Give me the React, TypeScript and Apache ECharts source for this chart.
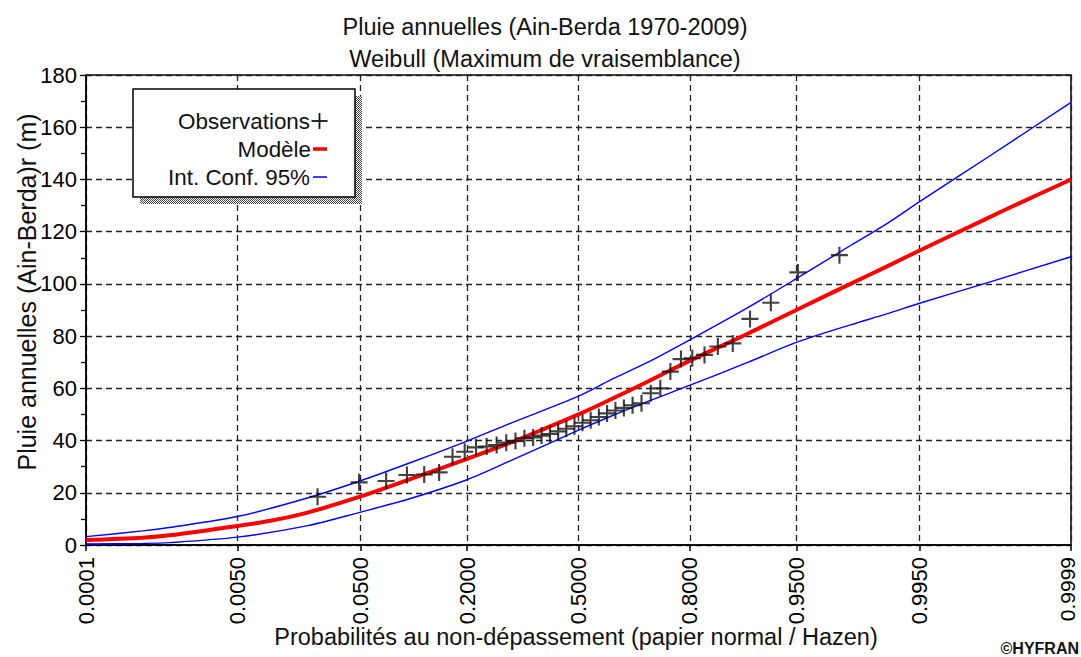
import React, { useEffect, useRef } from "react";
import * as echarts from "echarts";

// Probability-paper tick positions (non-exceedance probabilities)
const tickProbs = [0.0001, 0.005, 0.05, 0.2, 0.5, 0.8, 0.95, 0.995, 0.9999];

// Sorted annual rainfall observations with their plotting positions
const obsProb = [
  0.0244, 0.0488, 0.0732, 0.0976, 0.122, 0.1463, 0.1707, 0.1951, 0.2195, 0.2439,
  0.2683, 0.2927, 0.3171, 0.3415, 0.3659, 0.3902, 0.4146, 0.439, 0.4634, 0.4878,
  0.5122, 0.5366, 0.561, 0.5854, 0.6098, 0.6341, 0.6585, 0.6829, 0.7073, 0.7317,
  0.7561, 0.7805, 0.8049, 0.8293, 0.8537, 0.878, 0.9024, 0.9268, 0.9512, 0.9756,
];
const obsValue = [
  18.5, 24.0, 24.5, 26.8, 27.0, 27.8, 33.8, 35.7, 37.4, 37.7,
  38.3, 39.2, 39.8, 40.9, 41.2, 41.9, 42.5, 43.5, 44.5, 45.5,
  46.8, 47.8, 49.0, 50.4, 51.5, 52.5, 53.5, 54.3, 58.1, 60.0,
  66.4, 71.2, 71.5, 72.8, 76.0, 77.2, 86.6, 92.8, 104.4, 111.0,
];

// Fitted Weibull quantiles
const modelProb = [
  0.0001, 0.0005, 0.001, 0.005, 0.01, 0.02, 0.05, 0.1, 0.2, 0.3, 0.4, 0.5,
  0.6, 0.7, 0.8, 0.9, 0.95, 0.98, 0.99, 0.995, 0.999, 0.9995, 0.9999,
];
const modelValue = [
  1.9, 2.8, 3.7, 7.3, 9.3, 12.3, 18.6, 25.0, 33.0, 39.0, 44.6, 50.0,
  56.0, 62.6, 70.6, 81.0, 90.0, 100.0, 106.6, 112.8, 125.2, 130.0, 140.0,
];

// 95% confidence interval bounds
const bandProb = [
  0.0001, 0.0005, 0.001, 0.005, 0.02, 0.05, 0.1, 0.2, 0.3, 0.5,
  0.6, 0.7, 0.8, 0.9, 0.95, 0.98, 0.99, 0.995, 0.999, 0.9999,
];
const upperValue = [
  3.2, 5.4, 6.7, 10.9, 17.9, 24.6, 31.3, 39.8, 46.4, 57.0,
  63.5, 70.0, 78.6, 91.0, 102.0, 114.7, 123.0, 131.5, 148.5, 169.5,
];
const lowerValue = [
  0.4, 0.6, 0.9, 3.0, 7.3, 12.6, 17.6, 25.0, 32.0, 44.0,
  49.5, 55.0, 61.2, 70.0, 77.6, 84.3, 88.5, 92.6, 100.5, 110.4,
];

const FONT = 'Arial, "Liberation Sans", sans-serif';

// Inverse of the standard normal CDF (Acklam's rational approximation)
function probit(p: number): number {
  const a = [-3.969683028665376e1, 2.209460984245205e2, -2.759285104469687e2, 1.38357751867269e2, -3.066479806614716e1, 2.506628277459239];
  const b = [-5.447609879822406e1, 1.615858368580409e2, -1.556989798598866e2, 6.680131188771972e1, -1.328068155288572e1];
  const c = [-7.784894002430293e-3, -3.223964580411365e-1, -2.400758277161838, -2.549671608202797, 4.374664141464968, 2.938163982698783];
  const d = [7.784695709041462e-3, 3.224671290700398e-1, 2.445134137142996, 3.754408661907416];
  const pl = 0.02425;
  if (p < pl) {
    const q = Math.sqrt(-2 * Math.log(p));
    return (((((c[0] * q + c[1]) * q + c[2]) * q + c[3]) * q + c[4]) * q + c[5]) /
      ((((d[0] * q + d[1]) * q + d[2]) * q + d[3]) * q + 1);
  }
  if (p <= 1 - pl) {
    const q = p - 0.5;
    const r = q * q;
    return ((((((a[0] * r + a[1]) * r + a[2]) * r + a[3]) * r + a[4]) * r + a[5]) * q) /
      (((((b[0] * r + b[1]) * r + b[2]) * r + b[3]) * r + b[4]) * r + 1);
  }
  const q = Math.sqrt(-2 * Math.log(1 - p));
  return -(((((c[0] * q + c[1]) * q + c[2]) * q + c[3]) * q + c[4]) * q + c[5]) /
    ((((d[0] * q + d[1]) * q + d[2]) * q + d[3]) * q + 1);
}

const tickZ = tickProbs.map(probit);
const zMin = tickZ[0];
const zMax = tickZ[tickZ.length - 1];

function probLabel(z: number): string {
  let best = 0;
  let bd = Infinity;
  tickProbs.forEach((p, i) => {
    const dd = Math.abs(tickZ[i] - z);
    if (dd < bd) {
      bd = dd;
      best = i;
    }
  });
  const txt = tickProbs[best].toFixed(4);
  // the last label sits on the frame edge: nudge it inward a little
  return best === tickProbs.length - 1 ? `{edge|${txt}}` : txt;
}

function makeShadowPattern(): HTMLCanvasElement {
  const cv = document.createElement("canvas");
  cv.width = 2;
  cv.height = 2;
  const ctx = cv.getContext("2d")!;
  ctx.fillStyle = "#ffffff";
  ctx.fillRect(0, 0, 2, 2);
  ctx.fillStyle = "#444444";
  ctx.fillRect(0, 0, 1, 1);
  ctx.fillRect(1, 1, 1, 1);
  return cv;
}

export default function App() {
  const ref = useRef<HTMLDivElement>(null);

  useEffect(() => {
    if (!ref.current) return;
    const chart = echarts.init(ref.current, undefined, { renderer: "svg" });

    const toPts = (ps: number[], vs: number[]) => ps.map((p, i) => [probit(p), vs[i]]);

    const legendX = 133;
    const legendY = 89;
    const legendW = 222;
    const legendH = 108;

    chart.setOption({
      animation: false,
      backgroundColor: "#ffffff",
      grid: {
        left: 86,
        right: 10,
        top: 75,
        bottom: 112,
        show: true,
        borderColor: "#000",
        borderWidth: 1.5,
        containLabel: false,
        outerBoundsMode: "none",
      },
      xAxis: {
        type: "value",
        min: zMin,
        max: zMax,
        axisLine: { show: true, onZero: false, lineStyle: { color: "#000", width: 1.5 } },
        axisTick: {
          show: true,
          customValues: tickZ,
          length: 6,
          lineStyle: { color: "#000", width: 1.5 },
        },
        axisLabel: {
          customValues: tickZ,
          rotate: 90,
          margin: 12,
          color: "#000",
          fontSize: 22,
          lineHeight: 18,
          fontFamily: FONT,
          formatter: (v: number) => probLabel(v),
          rich: {
            edge: {
              fontSize: 21,
              fontFamily: FONT,
              color: "#000",
              lineHeight: 18,
              padding: [0, 0, 8, 0],
            },
          },
        },
        splitLine: {
          show: true,
          lineStyle: { color: "#222", width: 1.3, type: [6, 4] },
        },
      },
      yAxis: {
        type: "value",
        min: 0,
        max: 180,
        interval: 20,
        axisLine: { show: true, onZero: false, lineStyle: { color: "#000", width: 1.5 } },
        axisTick: { show: true, length: 6, lineStyle: { color: "#000", width: 1.3 } },
        minorTick: { show: true, splitNumber: 2, length: 5, lineStyle: { color: "#000", width: 1.3 } },
        axisLabel: { color: "#000", fontSize: 22, fontFamily: FONT, margin: 9 },
        splitLine: {
          show: true,
          lineStyle: { color: "#222", width: 1.3, type: [6, 4] },
        },
      },
      series: [
        {
          name: "Int. Conf. 95% sup",
          type: "line",
          data: toPts(bandProb, upperValue),
          smooth: 0.3,
          symbol: "none",
          lineStyle: { color: "#0000ff", width: 1.4 },
          z: 3,
        },
        {
          name: "Int. Conf. 95% inf",
          type: "line",
          data: toPts(bandProb, lowerValue),
          smooth: 0.3,
          symbol: "none",
          lineStyle: { color: "#0000ff", width: 1.4 },
          z: 3,
        },
        {
          name: "Modèle",
          type: "line",
          data: toPts(modelProb, modelValue),
          smooth: 0.3,
          symbol: "none",
          lineStyle: { color: "#ff0000", width: 4 },
          z: 4,
        },
        {
          name: "Observations",
          type: "scatter",
          data: toPts(obsProb, obsValue),
          symbol: "path://M7,0H9V7H16V9H9V16H7V9H0V7H7Z",
          symbolSize: 17,
          itemStyle: { color: "#111" },
          z: 5,
        },
      ],
      graphic: [
        {
          type: "text",
          x: 545,
          y: 27,
          style: {
            text: "Pluie annuelles (Ain-Berda 1970-2009)",
            font: `23.5px ${FONT}`,
            fill: "#111",
            textAlign: "center",
            textVerticalAlign: "middle",
          },
        },
        {
          type: "text",
          x: 545,
          y: 59,
          style: {
            text: "Weibull (Maximum de vraisemblance)",
            font: `23.5px ${FONT}`,
            fill: "#111",
            textAlign: "center",
            textVerticalAlign: "middle",
          },
        },
        {
          type: "text",
          x: 27,
          y: 292,
          rotation: Math.PI / 2,
          style: {
            text: "Pluie annuelles (Ain-Berda)r (m)",
            font: `25px ${FONT}`,
            fill: "#111",
            textAlign: "center",
            textVerticalAlign: "middle",
          },
        },
        {
          type: "text",
          x: 576,
          y: 637,
          style: {
            text: "Probabilités au non-dépassement (papier normal / Hazen)",
            font: `23.5px ${FONT}`,
            fill: "#111",
            textAlign: "center",
            textVerticalAlign: "middle",
          },
        },
        {
          type: "text",
          x: 1079,
          y: 640,
          style: {
            text: "©HYFRAN",
            font: `bold 16px ${FONT}`,
            fill: "#111",
            textAlign: "right",
            textVerticalAlign: "top",
          },
        },
        // legend box with its shadow
        {
          type: "rect",
          shape: { x: legendX + 7, y: legendY + 7, width: legendW, height: legendH },
          style: { fill: { image: makeShadowPattern(), repeat: "repeat" } as any },
          z: 100,
        },
        {
          type: "rect",
          shape: { x: legendX, y: legendY, width: legendW, height: legendH },
          style: { fill: "#fff", stroke: "#000", lineWidth: 1.5 },
          z: 101,
        },
        {
          type: "text",
          x: 310,
          y: 121,
          z: 102,
          style: { text: "Observations", font: `22.4px ${FONT}`, fill: "#111", textAlign: "right", textVerticalAlign: "middle" },
        },
        {
          type: "text",
          x: 311,
          y: 149,
          z: 102,
          style: { text: "Modèle", font: `22.4px ${FONT}`, fill: "#111", textAlign: "right", textVerticalAlign: "middle" },
        },
        {
          type: "text",
          x: 310,
          y: 177,
          z: 102,
          style: { text: "Int. Conf. 95%", font: `22.4px ${FONT}`, fill: "#111", textAlign: "right", textVerticalAlign: "middle" },
        },
        {
          type: "line",
          z: 102,
          shape: { x1: 311.5, y1: 121, x2: 327.5, y2: 121 },
          style: { stroke: "#111", lineWidth: 1.8 },
        },
        {
          type: "line",
          z: 102,
          shape: { x1: 319.5, y1: 113, x2: 319.5, y2: 129 },
          style: { stroke: "#111", lineWidth: 1.8 },
        },
        {
          type: "line",
          z: 102,
          shape: { x1: 313, y1: 149, x2: 327, y2: 149 },
          style: { stroke: "#ff0000", lineWidth: 3.5 },
        },
        {
          type: "line",
          z: 102,
          shape: { x1: 313, y1: 177, x2: 327, y2: 177 },
          style: { stroke: "#0000ff", lineWidth: 1.5 },
        },
      ],
    });

    return () => chart.dispose();
  }, []);

  return (
    <div
      ref={ref}
      style={{ position: "fixed", left: 0, top: 0, width: 1081, height: 657, background: "#fff" }}
    />
  );
}
